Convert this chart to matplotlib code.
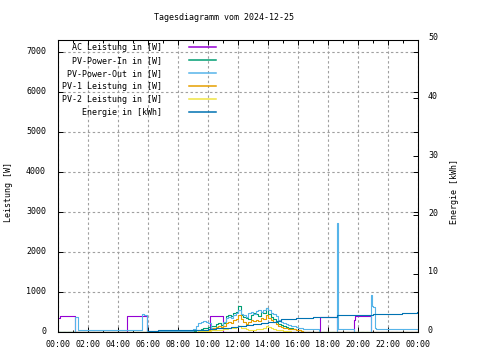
import matplotlib
matplotlib.use("Agg")
import matplotlib.pyplot as plt
import matplotlib.transforms as mtransforms
from matplotlib.ticker import MultipleLocator

plt.rcParams['font.family'] = ['DejaVu Sans Mono']
plt.rcParams['font.size'] = 6

title = "Tagesdiagramm vom 2024-12-25"
x_tick_labels = ["00:00", "02:00", "04:00", "06:00", "08:00", "10:00", "12:00",
                 "14:00", "16:00", "18:00", "20:00", "22:00", "00:00"]
left_ticks = [0, 1000, 2000, 3000, 4000, 5000, 6000, 7000]
right_ticks = [0, 10, 20, 30, 40, 50]

# AC Leistung [W]
ac_t = ["00:00", "00:08", "01:08", "04:36", "05:54", "10:08", "10:59",
        "17:28", "18:35", "19:44", "19:47", "20:51", "24:00"]
ac_v = [350, 400, 0, 400, 0, 390, 0, 370, 0, 300, 410, 0, 0]

# PV-Power-In [W]
pin_t = ["00:00", "09:00", "09:10", "09:20", "09:30", "09:40", "09:50", "10:00",
         "10:10", "10:20", "10:30", "10:40", "10:50", "11:00", "11:10", "11:20",
         "11:30", "11:40", "11:50", "12:00", "12:10", "12:20", "12:30", "12:40",
         "12:50", "13:00", "13:10", "13:20", "13:30", "13:40", "13:50", "14:00",
         "14:10", "14:20", "14:30", "14:40", "14:50", "15:00", "15:10", "15:20",
         "15:30", "15:40", "15:50", "16:00", "16:10", "16:20", "16:30", "24:00"]
pin_v = [0, 20, 40, 60, 80, 90, 110, 120,
         140, 150, 190, 215, 180, 230, 400, 430,
         390, 470, 500, 660, 430, 380, 350, 320,
         430, 470, 440, 410, 500, 470, 590, 440,
         380, 330, 260, 200, 170, 150, 120, 105,
         90, 75, 60, 45, 30, 10, 0, 0]

# PV-Power-Out [W]
pout_t = ["00:00", "01:08", "01:20", "05:35", "05:44", "05:57", "08:50",
          "09:00", "09:10", "09:20", "09:30", "09:40", "09:50", "10:00",
          "10:10", "10:20", "10:30", "10:40", "10:50", "11:00", "11:10", "11:20",
          "11:30", "11:40", "11:50", "12:00", "12:10", "12:20", "12:30", "12:40",
          "12:50", "13:00", "13:10", "13:20", "13:30", "13:40", "13:50", "14:00",
          "14:10", "14:20", "14:30", "14:40", "14:50", "15:00", "15:10", "15:20",
          "15:30", "15:40", "15:50", "16:00", "16:10", "16:20", "16:30", "16:40",
          "17:24", "18:35", "18:38", "19:44", "20:51", "20:56", "21:00", "21:06",
          "21:10", "24:00"]
pout_v = [0, 385, 40, 440, 420, 30, 30,
          80, 150, 220, 250, 270, 260, 220,
          100, 110, 120, 110, 120, 260, 340, 380,
          350, 430, 480, 560, 450, 420, 380, 470,
          500, 460, 520, 540, 510, 560, 600, 540,
          480, 440, 400, 300, 250, 220, 200, 180,
          160, 140, 120, 100, 90, 80, 70, 65,
          0, 2725, 67, 0, 925, 660, 630, 90,
          67, 67]

# PV-1 Leistung [W]
pv1_t = ["00:00", "09:40", "09:50", "10:00", "10:10", "10:20", "10:30", "10:40",
         "10:50", "11:00", "11:10", "11:20", "11:30", "11:40", "11:50", "12:00",
         "12:10", "12:20", "12:30", "12:40", "12:50", "13:00", "13:10", "13:20",
         "13:30", "13:40", "13:50", "14:00", "14:10", "14:20", "14:30", "14:40",
         "14:50", "15:00", "15:10", "15:20", "15:30", "15:40", "15:50", "16:00",
         "16:10", "16:20", "16:30", "24:00"]
pv1_v = [0, 0, 20, 50, 80, 100, 120, 140,
         130, 160, 220, 250, 230, 290, 320, 420,
         330, 240, 210, 250, 290, 280, 300, 270,
         340, 330, 420, 360, 290, 240, 190, 160,
         130, 110, 95, 85, 75, 65, 55, 40,
         25, 10, 0, 0]

# PV-2 Leistung [W]
pv2_t = ["00:00", "09:00", "09:10", "09:20", "09:30", "09:40", "09:50", "10:00",
         "10:10", "10:20", "10:30", "10:40", "10:50", "11:00", "11:10", "11:20",
         "11:30", "11:40", "11:50", "12:00", "12:10", "12:20", "12:30", "12:40",
         "12:50", "13:00", "13:10", "13:20", "13:30", "13:40", "13:50", "14:00",
         "14:10", "14:20", "14:30", "14:40", "14:50", "15:00", "15:10", "15:20",
         "15:30", "15:40", "16:00", "24:00"]
pv2_v = [0, 0, 10, 15, 20, 25, 30, 35,
         40, 50, 55, 60, 55, 65, 85, 95,
         90, 110, 120, 150, 110, 100, 75, 60,
         50, 60, 70, 65, 75, 110, 150, 120,
         90, 70, 55, 45, 40, 30, 25, 15,
         10, 5, 0, 0]

# Energie [kWh]
en_t = ["00:00", "03:00", "06:00", "06:40", "09:00", "10:00", "10:30", "11:00",
        "11:30", "12:00", "12:30", "13:00", "13:30", "14:00", "14:30", "14:50",
        "15:50", "17:00", "17:30", "18:35", "21:00", "22:55", "23:55", "24:00"]
en_v = [0, 0.05, 0.2, 0.34, 0.4, 0.51, 0.6, 0.73,
        0.9, 1.08, 1.2, 1.32, 1.5, 1.66, 1.95, 2.17,
        2.34, 2.5, 2.62, 2.85, 3.03, 3.2, 3.37, 3.37]


def to_h(lst):
    out = []
    for s in lst:
        h, m = s.split(":")
        out.append(int(h) + int(m) / 60.0)
    return out


colors = {
    "ac": "#9400d3",
    "pin": "#009e73",
    "pout": "#56b4e9",
    "pv1": "#e69f00",
    "pv2": "#f0e442",
    "en": "#0072b2",
}

W, H = 480, 360
fig = plt.figure(figsize=(4.8, 3.6), dpi=100)
L, R, T, B = 58, 418, 39.5, 332
ax = fig.add_axes([L / W, 1 - B / H, (R - L) / W, (B - T) / H])
ax2 = ax.twinx()

lw = 0.8
h1, = ax.plot(to_h(ac_t), ac_v, drawstyle="steps-post", color=colors["ac"], lw=lw)
h2, = ax.plot(to_h(pin_t), pin_v, drawstyle="steps-post", color=colors["pin"], lw=lw)
h3, = ax.plot(to_h(pout_t), pout_v, drawstyle="steps-post", color=colors["pout"], lw=lw)
h4, = ax.plot(to_h(pv1_t), pv1_v, drawstyle="steps-post", color=colors["pv1"], lw=lw)
h5, = ax.plot(to_h(pv2_t), pv2_v, drawstyle="steps-post", color=colors["pv2"], lw=lw)
h6, = ax2.plot(to_h(en_t), en_v, drawstyle="steps-post", color=colors["en"], lw=lw)

ax.set_xlim(0, 24)
ax.set_ylim(0, 7300)
ax2.set_ylim(0, 50)

ax.set_xticks(list(range(0, 25, 2)))
ax.set_xticklabels(x_tick_labels)
ax.xaxis.set_minor_locator(MultipleLocator(1))
ax.set_yticks(left_ticks)
ax.set_yticklabels([str(v) for v in left_ticks])
ax2.set_yticks(right_ticks)
ax2.set_yticklabels([str(v) for v in right_ticks])

ax.tick_params(axis="x", which="major", direction="in", length=3.6, width=0.7,
               top=True, bottom=True, pad=5.6, labelsize=6)
ax.tick_params(axis="x", which="minor", direction="in", length=1.8, width=0.7,
               top=True, bottom=True)
ax.tick_params(axis="y", which="major", direction="in", length=3.6, width=0.7,
               left=True, right=True, pad=8.6, labelsize=6)
ax2.tick_params(axis="y", which="major", direction="in", length=3.6, width=0.7,
                right=True, pad=7.2, labelsize=6)

# small upward offsets of tick labels, as in the reference
up2 = mtransforms.ScaledTranslation(0, 2.5 / 100, fig.dpi_scale_trans)
up1 = mtransforms.ScaledTranslation(0, 1.5 / 100, fig.dpi_scale_trans)
for lab in ax2.get_yticklabels():
    lab.set_transform(lab.get_transform() + up2)
for lab in ax.get_yticklabels():
    lab.set_transform(lab.get_transform() + up1)

for a in (ax, ax2):
    for sp in a.spines.values():
        sp.set_linewidth(0.75)
        sp.set_color("black")

ax.grid(True, which="major", color="#a0a0a0", linestyle=(0, (2.2, 2.2)), linewidth=0.8)
ax.set_axisbelow(True)

ax.set_ylabel("Leistung [W]", fontsize=6)
ax.yaxis.set_label_coords((13 - L) / (R - L), 0.48)
ax2.set_ylabel("Energie [kWh]", fontsize=6)
ax2.yaxis.set_label_coords((450 - L) / (R - L), 0.48)

fig.text(223.5 / W, 1 - 17 / H, title, ha="center", va="center", fontsize=6)

labels = ["AC Leistung in [W]", "PV-Power-In in [W]", "PV-Power-Out in [W]",
          "PV-1 Leistung in [W]", "PV-2 Leistung in [W]", "Energie in [kWh]"]
labels = [s.rjust(20) for s in labels]
leg = ax2.legend([h1, h2, h3, h4, h5, h6], labels, loc="upper left",
                 bbox_to_anchor=((62 - L) / (R - L), (B - 43.3) / (B - T)),
                 frameon=False, markerfirst=False, borderaxespad=0, borderpad=0,
                 handlelength=3.3, handletextpad=3.2, labelspacing=0.47,
                 fontsize=6)
for ln in leg.get_lines():
    ln.set_linewidth(1.1)

fig.savefig("out.png", dpi=100)
